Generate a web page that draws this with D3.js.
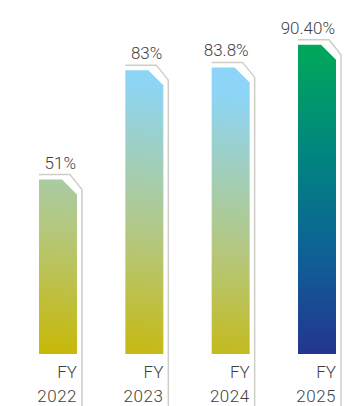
<!DOCTYPE html>
<html>
<head>
<meta charset="utf-8">
<script src="https://cdn.jsdelivr.net/npm/d3@7"></script>
<style>
  html, body { margin: 0; padding: 0; background: #fff; }
  svg { display: block; font-family: Roboto, "Noto Sans", sans-serif; font-weight: 300; }
</style>
</head>
<body>
<div id="chart"></div>
<script>
// chart data
const categories = ['FY2022', 'FY2023', 'FY2024', 'FY2025'];
const values = [51, 83, 83.8, 90.4];
const valueLabels = ['51%', '83%', '83.8%', '90.40%'];
const yearLabels = ['2022', '2023', '2024', '2025'];

const width = 354, height = 406;
const baseY = 354;

const svg = d3.select('#chart').append('svg')
    .attr('width', width)
    .attr('height', height);

const x = d3.scaleBand()
    .domain(categories)
    .range([39, 336])
    .paddingInner(0.56)
    .paddingOuter(0);

const y = d3.scaleLinear()
    .domain([0, 100])
    .range([baseY, 12]);

// gradients
const defs = svg.append('defs');
const soft = defs.append('linearGradient')
    .attr('id', 'soft')
    .attr('gradientUnits', 'userSpaceOnUse')
    .attr('x1', 0).attr('y1', baseY)
    .attr('x2', 40).attr('y2', 68);
soft.append('stop').attr('offset', 0).attr('stop-color', '#c9b700');
soft.append('stop').attr('offset', 0.45).attr('stop-color', '#b5c77c');
soft.append('stop').attr('offset', 1).attr('stop-color', '#8dd5f6');

const strong = defs.append('linearGradient')
    .attr('id', 'strong')
    .attr('x1', 0).attr('y1', 0)
    .attr('x2', 0).attr('y2', 1);
strong.append('stop').attr('offset', 0).attr('stop-color', '#00a85a');
strong.append('stop').attr('offset', 0.35).attr('stop-color', '#00867f');
strong.append('stop').attr('offset', 0.7).attr('stop-color', '#0f5e97');
strong.append('stop').attr('offset', 1).attr('stop-color', '#24358f');

const bars = svg.selectAll('g.bar')
    .data(categories)
    .join('g')
    .attr('class', 'bar');

// outline frame behind each bar
bars.append('path')
    .attr('fill', 'none')
    .attr('stroke', '#cfcec6')
    .attr('stroke-width', 1.5)
    .attr('d', (d, i) => {
        const L = x(d), R = x(d) + x.bandwidth(), T = y(values[i]);
        return `M${L},${T - 5}H${R - 7}L${R + 5},${T + 10}V${height + 2}`;
    });

// bar with chamfered top-right corner
bars.append('path')
    .attr('fill', (d, i) => i === 3 ? 'url(#strong)' : 'url(#soft)')
    .attr('d', (d, i) => {
        const L = x(d), R = x(d) + x.bandwidth(), T = y(values[i]);
        return `M${L},${T}H${R - 15}L${R},${T + 15}V${baseY}H${L}Z`;
    });

// value labels
bars.append('text')
    .attr('x', d => x(d) + x.bandwidth() - 1)
    .attr('y', (d, i) => y(values[i]) - 11)
    .attr('text-anchor', 'end')
    .attr('font-size', 17)
    .attr('fill', '#3f3f3f')
    .text((d, i) => valueLabels[i]);

// category labels
bars.append('text')
    .attr('x', d => x(d) + x.bandwidth())
    .attr('y', 378)
    .attr('text-anchor', 'end')
    .attr('font-size', 17)
    .attr('fill', '#3f3f3f')
    .text('FY');

bars.append('text')
    .attr('x', d => x(d) + x.bandwidth())
    .attr('y', 402)
    .attr('text-anchor', 'end')
    .attr('font-size', 17)
    .attr('letter-spacing', 0.5)
    .attr('fill', '#3f3f3f')
    .text((d, i) => yearLabels[i]);
</script>
</body>
</html>
